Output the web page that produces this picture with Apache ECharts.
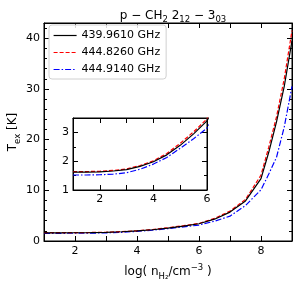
<!DOCTYPE html>
<html><head><meta charset="utf-8">
<script src="https://cdn.jsdelivr.net/npm/echarts@6/dist/echarts.min.js"></script>
<style>html,body{margin:0;padding:0;background:#fff}#c{width:299px;height:285px}</style>
</head><body><div id="c"></div>
<script>
var logN = [1,1.5,2,2.5,3,3.5,4,4.5,5,5.5,6,6.5,7,7.5,8,8.25,8.5,8.75,9];
var t439 = [1.62,1.62,1.63,1.66,1.71,1.82,1.98,2.22,2.55,2.95,3.40,4.3,5.7,7.9,12.3,17.5,23.5,30.5,39.5];
var t4448 = [1.64,1.64,1.65,1.68,1.73,1.85,2.01,2.27,2.62,3.02,3.47,4.45,5.9,8.2,13.0,18.5,24.5,32.0,41.5];
var t4449 = [1.52,1.52,1.53,1.55,1.60,1.72,1.90,2.13,2.45,2.78,3.15,3.9,4.9,7.0,10.1,13.2,16.5,22.5,30.5];
var names = ['439.9610 GHz','444.8260 GHz','444.9140 GHz'];

function pairs(ys){ return logN.map(function(x,i){return [x, ys[i]];}); }
var F = 'DejaVu Sans';
var styles = [
  {color:'#000000', type:'solid'},
  {color:'#ff0000', type:[4,2]},
  {color:'#0000ff', type:[6,2,1.5,2]}
];
var sets = [t439, t4448, t4449];

function ax(extra){
  var base = {
    type:'value', scale:false,
    axisLine:{show:true, onZero:false, lineStyle:{color:'#000', width:1}},
    axisTick:{show:true, inside:true, length:5, lineStyle:{color:'#000', width:1}},
    minorTick:{show:false},
    splitLine:{show:false},
    axisLabel:{color:'#000', fontFamily:F, fontSize:11, margin:4}
  };
  for (var k in extra) base[k] = extra[k];
  return base;
}
function evenOnly(v){ return (Math.round(v)%2===0) ? String(v) : ''; }

var series = [];
sets.forEach(function(ys, i){
  series.push({name:names[i], type:'line', xAxisIndex:0, yAxisIndex:0, data:pairs(ys),
    symbol:'none', lineStyle:{color:styles[i].color, type:styles[i].type, width:1.2},
    itemStyle:{color:styles[i].color}, z:3-i+2, animation:false});
});
sets.forEach(function(ys, i){
  series.push({type:'line', xAxisIndex:2, yAxisIndex:2, data:pairs(ys),
    symbol:'none', lineStyle:{color:styles[i].color, type:styles[i].type, width:1.2},
    itemStyle:{color:styles[i].color}, z:3-i+10, animation:false});
});

var minorMain = {show:true, splitNumber:5, length:3, lineStyle:{color:'#000'}};
var minorInset = {show:true, splitNumber:2, length:3, lineStyle:{color:'#000'}};

var option = {
  animation:false,
  title:{
    text:'{a|p − CH}{s|2}{a| 2}{s|12}{a| − 3}{s|03}',
    left:168, top:3, textAlign:'center',
    textStyle:{fontWeight:'normal', rich:{
      a:{fontFamily:F, fontSize:12, fontWeight:'normal', color:'#000', lineHeight:16},
      s:{fontFamily:F, fontSize:8.5, fontWeight:'normal', color:'#000', lineHeight:9, verticalAlign:'bottom'}
    }}
  },
  legend:{
    left:49, top:25, orient:'vertical',
    data:names,
    itemWidth:23, itemHeight:10, itemGap:6,
    padding:[5,6,4,4],
    borderColor:'#d0d0d0', borderWidth:1, borderRadius:3,
    backgroundColor:'rgba(255,255,255,0.85)',
    itemStyle:{opacity:0},
    lineStyle:{width:1.2},
    textStyle:{fontFamily:F, fontSize:11, color:'#000'}
  },
  grid:[
    {left:44, right:7, top:23, bottom:44, show:true, borderColor:'#000', borderWidth:1, backgroundColor:'transparent', containLabel:false, outerBoundsMode:'none'},
    {left:73, right:92, top:118, bottom:95, show:true, borderColor:'#000', borderWidth:1, backgroundColor:'#fff', z:5, containLabel:false, outerBoundsMode:'none'}
  ],
  xAxis:[
    ax({gridIndex:0, min:1, max:9, interval:1,
      name:'{a|log( n}{s|H₂}{a|/cm}{p|−3}{a| )}', nameLocation:'middle', nameGap:22, nameMoveOverlap:false,
      nameTextStyle:{rich:{
        a:{fontFamily:F, fontSize:12, color:'#000', lineHeight:18},
        s:{fontFamily:F, fontSize:8.5, color:'#000', lineHeight:9, verticalAlign:'bottom'},
        p:{fontFamily:F, fontSize:8.5, color:'#000', lineHeight:9, verticalAlign:'top'}
      }},
      axisLabel:{color:'#000', fontFamily:F, fontSize:11, margin:5, showMinLabel:false, showMaxLabel:false, formatter:evenOnly}}),
    ax({gridIndex:0, min:1, max:9, interval:1, position:'top', axisLabel:{show:false}}),
    ax({gridIndex:1, min:1, max:6, interval:1,
      axisLabel:{color:'#000', fontFamily:F, fontSize:11, margin:4, formatter:evenOnly}, z:6}),
    ax({gridIndex:1, min:1, max:6, interval:1, position:'top', axisLabel:{show:false}, z:6})
  ],
  yAxis:[
    ax({gridIndex:0, min:0, max:43, interval:10, minorTick:minorMain,
      name:'{a|T}{s|ex}{a| [K]}', nameLocation:'middle', nameGap:22, nameRotate:90, nameMoveOverlap:false,
      nameTextStyle:{rich:{
        a:{fontFamily:F, fontSize:12, color:'#000', lineHeight:18},
        s:{fontFamily:F, fontSize:8.5, color:'#000', lineHeight:9, verticalAlign:'bottom'}
      }},
      axisLabel:{color:'#000', fontFamily:F, fontSize:11, margin:4, showMaxLabel:false}}),
    ax({gridIndex:0, min:0, max:43, interval:10, position:'right', minorTick:minorMain, axisLabel:{show:false}}),
    ax({gridIndex:1, min:1, max:3.5, interval:1, minorTick:minorInset,
      axisLabel:{color:'#000', fontFamily:F, fontSize:11, margin:4, showMaxLabel:false}, z:6}),
    ax({gridIndex:1, min:1, max:3.5, interval:1, position:'right', minorTick:minorInset, axisLabel:{show:false}, z:6})
  ],
  series:series
};
var chart = echarts.init(document.getElementById('c'), null, {renderer:'canvas'});
chart.setOption(option);
</script></body></html>
